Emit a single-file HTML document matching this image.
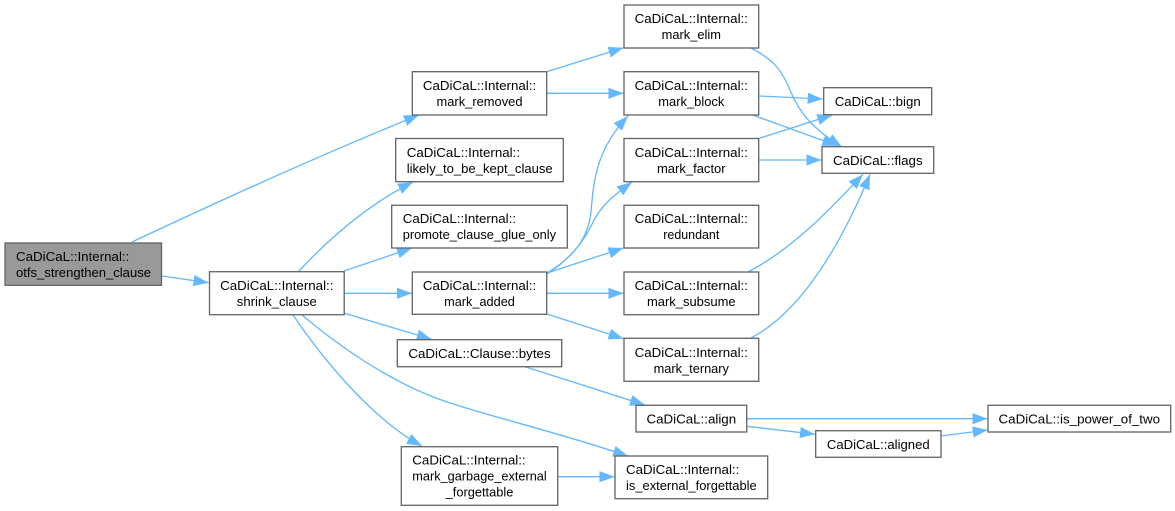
<!DOCTYPE html>
<html><head><meta charset="utf-8"><style>
html,body{margin:0;padding:0;background:#fff}
svg{display:block}
.n rect{fill:#fff;stroke:#666;stroke-width:1.33}
.e path{fill:none;stroke:#63b8ff;stroke-width:1.33;marker-end:url(#a)}
text{font-family:"Liberation Sans",Arial,sans-serif;font-size:13.33px;fill:#000}
.m{text-anchor:middle}
</style></head><body>
<svg xmlns="http://www.w3.org/2000/svg" width="1175" height="511" viewBox="0 0 1175 511">
<defs><marker id="a" markerUnits="userSpaceOnUse" markerWidth="16" markerHeight="13" refX="15" refY="6" orient="auto"><polygon points="0,0.4 15,6 0,11.6" fill="#63b8ff"/></marker></defs>
<g class="e">
<path d="M132,242 C215,203 320,155 419,115"/>
<path d="M162,276 L208.5,282.7"/>
<path d="M298,272 C325,243 365,206 413,182"/>
<path d="M344,271 L412,248"/>
<path d="M344.5,293.3 L412,293.3"/>
<path d="M344.5,313.3 L431.7,339.3"/>
<path d="M302,315 C335,343 390,383 447,402 C495,418 550,430 628,456"/>
<path d="M293,315 C320,355 370,418 422,446"/>
<path d="M546.7,71.7 L623.5,47.7"/>
<path d="M546.7,93.3 L623.5,93.3"/>
<path d="M547,273 C572,258 588,240 591,212 C594,175 598,148 628,116"/>
<path d="M547,274 C572,258 586,238 594,220 C603,204 613,196 632,182"/>
<path d="M547,273 L623.5,248"/>
<path d="M547,293.3 L623.5,293.3"/>
<path d="M547.7,314.3 L623.5,338.7"/>
<path d="M751,48 C775,60 783,73 790,90 C800,115 815,130 842,147"/>
<path d="M759.3,96 L822.7,99"/>
<path d="M752.7,115 L837.3,145.7"/>
<path d="M759.3,138.3 L832.3,115"/>
<path d="M759,160 L821.5,160"/>
<path d="M748,272 C790,250 825,215 863,174.3"/>
<path d="M751,338 C805,310 845,235 870,174.3"/>
<path d="M525,366.7 L645,405"/>
<path d="M747,418.7 L987.5,418.7"/>
<path d="M747,426.3 L815,434.3"/>
<path d="M941,436 L987.7,430"/>
<path d="M557.7,476.7 L614.5,476.7"/>
</g>
<g class="n">
<rect x="5" y="243" width="156.5" height="42.3" style="fill:#999"/>
<text x="16" y="261">CaDiCaL::Internal::</text><text x="16" y="277" textLength="135" lengthAdjust="spacingAndGlyphs">otfs_strengthen_clause</text>
<rect x="209.5" y="271.7" width="134.7" height="43"/>
<text class="m" x="276.8" y="290">CaDiCaL::Internal::</text><text class="m" x="276.8" y="306" textLength="80" lengthAdjust="spacingAndGlyphs">shrink_clause</text>
<rect x="412.3" y="71.7" width="134.4" height="43.3"/>
<text class="m" x="479.5" y="90">CaDiCaL::Internal::</text><text class="m" x="479.5" y="106" textLength="86" lengthAdjust="spacingAndGlyphs">mark_removed</text>
<rect x="395.7" y="138.5" width="167.6" height="43.2"/>
<text x="406.7" y="157">CaDiCaL::Internal::</text><text x="406.7" y="173" textLength="146" lengthAdjust="spacingAndGlyphs">likely_to_be_kept_clause</text>
<rect x="391.7" y="205.3" width="175.6" height="42.7"/>
<text x="402.7" y="223">CaDiCaL::Internal::</text><text x="402.7" y="239" textLength="153.3" lengthAdjust="spacingAndGlyphs">promote_clause_glue_only</text>
<rect x="412.3" y="272" width="134.4" height="42.3"/>
<text class="m" x="479.5" y="290">CaDiCaL::Internal::</text><text class="m" x="479.5" y="306" textLength="70.7" lengthAdjust="spacingAndGlyphs">mark_added</text>
<rect x="397.3" y="339.7" width="164.4" height="27"/>
<text class="m" x="479.5" y="358">CaDiCaL::Clause::bytes</text>
<rect x="401.3" y="446.7" width="156.4" height="58.6"/>
<text x="412.3" y="464.5">CaDiCaL::Internal::</text><text x="412.3" y="480.5" textLength="134.4" lengthAdjust="spacingAndGlyphs">mark_garbage_external</text><text class="m" x="479.5" y="496.5" textLength="67.7" lengthAdjust="spacingAndGlyphs">_forgettable</text>
<rect x="624" y="5" width="134.7" height="43"/>
<text class="m" x="691.3" y="23">CaDiCaL::Internal::</text><text class="m" x="691.3" y="39" textLength="59.3" lengthAdjust="spacingAndGlyphs">mark_elim</text>
<rect x="624" y="71.7" width="134.7" height="43.3"/>
<text class="m" x="691.3" y="90">CaDiCaL::Internal::</text><text class="m" x="691.3" y="106" textLength="66" lengthAdjust="spacingAndGlyphs">mark_block</text>
<rect x="624" y="138.5" width="134.7" height="43.2"/>
<text class="m" x="691.3" y="157">CaDiCaL::Internal::</text><text class="m" x="691.3" y="173" textLength="68.7" lengthAdjust="spacingAndGlyphs">mark_factor</text>
<rect x="624" y="205.3" width="134.7" height="42.7"/>
<text class="m" x="691.3" y="223">CaDiCaL::Internal::</text><text class="m" x="691.3" y="239" textLength="56" lengthAdjust="spacingAndGlyphs">redundant</text>
<rect x="624" y="272" width="134.7" height="42.7"/>
<text class="m" x="691.3" y="290">CaDiCaL::Internal::</text><text class="m" x="691.3" y="306" textLength="88.7" lengthAdjust="spacingAndGlyphs">mark_subsume</text>
<rect x="624" y="338.3" width="134.7" height="43"/>
<text class="m" x="691.3" y="357">CaDiCaL::Internal::</text><text class="m" x="691.3" y="373" textLength="75.3" lengthAdjust="spacingAndGlyphs">mark_ternary</text>
<rect x="636" y="405.3" width="110.7" height="26.7"/>
<text class="m" x="691.3" y="423.5">CaDiCaL::align</text>
<rect x="615" y="456" width="152.7" height="42.7"/>
<text x="626" y="474">CaDiCaL::Internal::</text><text x="626" y="490" textLength="130.7" lengthAdjust="spacingAndGlyphs">is_external_forgettable</text>
<rect x="823.7" y="87.7" width="108" height="27"/>
<text class="m" x="877.7" y="106" textLength="86" lengthAdjust="spacingAndGlyphs">CaDiCaL::bign</text>
<rect x="822" y="146.7" width="111.7" height="26.6"/>
<text class="m" x="877.8" y="165">CaDiCaL::flags</text>
<rect x="815.7" y="430.7" width="125.3" height="26.6"/>
<text class="m" x="878.3" y="449" textLength="102.8" lengthAdjust="spacingAndGlyphs">CaDiCaL::aligned</text>
<rect x="988" y="405.3" width="182.7" height="26.7"/>
<text class="m" x="1079.3" y="423.5">CaDiCaL::is_power_of_two</text>
</g>
</svg>
</body></html>
